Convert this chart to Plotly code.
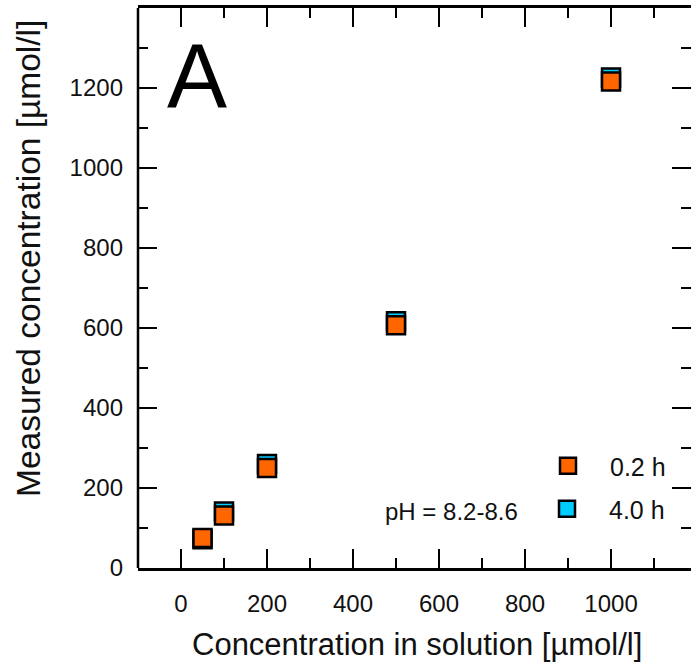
import plotly.graph_objects as go

# ---- data ----
conc = [50, 100, 200, 500, 1000]
meas_02h = [75, 131, 250, 607, 1216]
meas_40h = [72, 141, 260, 617, 1226]
series_names = ["0.2 h", "4.0 h"]
colors = ["#FF6600", "#00CCFF"]

x_major = [0, 200, 400, 600, 800, 1000]
x_minor = [-100, 100, 300, 500, 700, 900, 1100]
y_major = [0, 200, 400, 600, 800, 1000, 1200]
y_minor = [100, 300, 500, 700, 900, 1100, 1300]

FONT = "Liberation Sans, Arial, Helvetica, sans-serif"

fig = go.Figure()
# 4.0 h underneath
fig.add_trace(go.Scatter(
    x=conc, y=meas_40h, mode="markers", name=series_names[1],
    marker=dict(symbol="square", size=18, color=colors[1],
                line=dict(color="black", width=2.5)),
    legend="legend2", cliponaxis=False))
fig.add_trace(go.Scatter(
    x=conc, y=meas_02h, mode="markers", name=series_names[0],
    marker=dict(symbol="square", size=18, color=colors[0],
                line=dict(color="black", width=2.5)),
    legend="legend", cliponaxis=False))

axis_common = dict(
    showgrid=False, zeroline=False,
    ticks="inside", ticklen=19, tickwidth=2, tickcolor="black",
    tickfont=dict(family=FONT, size=24, color="#111"),
)

fig.update_xaxes(
    range=[-100, 1186], tickvals=x_major, ticktext=[str(v) for v in x_major],
    showline=True, linecolor="black", linewidth=2.5, mirror="allticks",
    ticklabelstandoff=12,
    minor=dict(tickvals=x_minor, ticks="inside", ticklen=10, tickwidth=2, tickcolor="black"),
    **axis_common)
fig.update_layout(yaxis=dict(
    range=[0, 1400], tickvals=y_major, ticktext=[str(v) for v in y_major],
    showline=False, mirror="ticks",
    ticklabelstandoff=14,
    minor=dict(tickvals=y_minor, ticks="inside", ticklen=10, tickwidth=2, tickcolor="black"),
    **axis_common))

W, H = 691, 668
ml, mr, mt, mb = 138, 0, 8, 100
pw, ph = W - ml - mr, H - mt - mb

def px(xp):
    return (xp - ml) / pw

def py(yp):
    return (H - mb - yp) / ph

leg_common = dict(
    font=dict(family=FONT, size=25, color="#111"),
    bgcolor="rgba(0,0,0,0)", borderwidth=0,
    itemwidth=74, xanchor="left", yanchor="middle",
)
fig.update_layout(
    width=W, height=H,
    margin=dict(l=ml, r=mr, t=mt, b=mb, pad=0),
    plot_bgcolor="white", paper_bgcolor="white",
    showlegend=True,
    legend=dict(x=px(526), y=py(466), **leg_common),
    legend2=dict(x=px(525), y=py(509), **leg_common),
    # left frame line only (the right edge of the frame lies outside the picture)
    shapes=[dict(type="line", xref="x domain", yref="y domain",
                 x0=0, x1=0, y0=0, y1=1,
                 line=dict(color="black", width=2.5), layer="above")],
    annotations=[
        dict(text="A", x=px(197), y=py(76), xref="paper", yref="paper",
             showarrow=False, font=dict(family=FONT, size=90, color="black"),
             xanchor="center", yanchor="middle"),
        dict(text="pH = 8.2-8.6", x=px(383), y=py(511), xref="paper", yref="paper",
             showarrow=False, font=dict(family=FONT, size=24, color="#111"),
             xanchor="left", yanchor="middle"),
        dict(text="Concentration in solution [µmol/l]", x=px(417), y=py(644),
             xref="paper", yref="paper", showarrow=False,
             font=dict(family=FONT, size=31, color="#111"),
             xanchor="center", yanchor="middle"),
        dict(text="Measured concentration [µmol/l]", x=px(28), y=py(259),
             xref="paper", yref="paper", showarrow=False, textangle=-90,
             font=dict(family=FONT, size=33.5, color="#111"),
             xanchor="center", yanchor="middle"),
    ],
)

fig.write_html("out.html")
